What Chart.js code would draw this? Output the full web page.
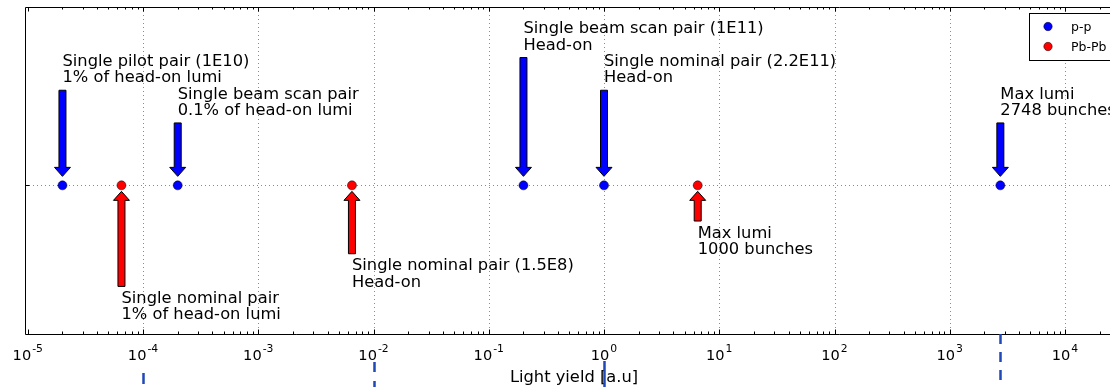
<!DOCTYPE html>
<html>
<head>
<meta charset="utf-8">
<script src="https://cdn.jsdelivr.net/npm/chart.js@4.4.0/dist/chart.umd.min.js"></script>
<style>
  html, body { margin: 0; padding: 0; background: #fff; }
  #wrap { width: 1110px; height: 387px; }
</style>
</head>
<body>
<div id="wrap"><canvas id="c"></canvas></div>
<script>
// p-p: light yield of each scenario, and where its arrow starts (y, data units)
const ppYield = [2e-5, 2e-4, 0.2, 1, 2748];
const ppArrowFrom = [0.64, 0.42, 0.86, 0.64, 0.42];
const ppLabels = [
  ["Single pilot pair (1E10)", "1% of head-on lumi"],
  ["Single beam scan pair", "0.1% of head-on lumi"],
  ["Single beam scan pair (1E11)", "Head-on"],
  ["Single nominal pair (2.2E11)", "Head-on"],
  ["Max lumi", "2748 bunches"],
];

// Pb-Pb
const pbYield = [6.5e-5, 6.5e-3, 6.5];
const pbArrowFrom = [-0.68, -0.46, -0.24];
const pbLabels = [
  ["Single nominal pair", "1% of head-on lumi"],
  ["Single nominal pair (1.5E8)", "Head-on"],
  ["Max lumi", "1000 bunches"],
];

// decade tick exponents, and the dashed markers under the axis
const decades = [-5, -4, -3, -2, -1, 0, 1, 2, 3, 4];
const markerLines = [1e-4, 1e-2, 1, 2748];

const xMin = Math.pow(10, -5.024), xMax = Math.pow(10, 4.347);
const yMin = -1, yMax = 1.2;

const FONT = '"DejaVu Sans", sans-serif';

function drawArrow(ctx, x, yTail, yTip, color) {
  const dir = Math.sign(yTip - yTail);
  const shaft = 3.5, head = 8, headLen = 9;
  const yb = yTip - dir * headLen;
  ctx.beginPath();
  ctx.moveTo(x - shaft, yTail);
  ctx.lineTo(x - shaft, yb);
  ctx.lineTo(x - head, yb);
  ctx.lineTo(x, yTip);
  ctx.lineTo(x + head, yb);
  ctx.lineTo(x + shaft, yb);
  ctx.lineTo(x + shaft, yTail);
  ctx.closePath();
  ctx.fillStyle = color;
  ctx.fill();
  ctx.strokeStyle = '#000';
  ctx.lineWidth = 1;
  ctx.stroke();
}

const decor = {
  id: 'decor',
  beforeDatasetsDraw(chart) {
    const { ctx, chartArea: a, scales: { x, y } } = chart;
    ctx.save();
    ctx.strokeStyle = '#8c8c8c';
    ctx.lineWidth = 1;
    ctx.setLineDash([1, 3]);
    decades.forEach(e => {
      const px = Math.round(x.getPixelForValue(Math.pow(10, e))) + 0.5;
      if (px <= a.left + 4) return;
      ctx.beginPath();
      ctx.moveTo(px, a.top);
      ctx.lineTo(px, a.bottom);
      ctx.stroke();
    });
    const py = Math.round(y.getPixelForValue(0)) + 0.5;
    ctx.beginPath();
    ctx.moveTo(a.left, py);
    ctx.lineTo(chart.width, py);
    ctx.stroke();
    ctx.restore();
  },
  afterDraw(chart) {
    const { ctx, chartArea: a, scales: { x, y } } = chart;
    const W = chart.width;
    ctx.save();

    // axes frame
    ctx.strokeStyle = '#000';
    ctx.lineWidth = 1;
    ctx.beginPath();
    ctx.moveTo(W + 5, a.top + 0.5);
    ctx.lineTo(a.left + 0.5, a.top + 0.5);
    ctx.lineTo(a.left + 0.5, a.bottom + 0.5);
    ctx.lineTo(W + 5, a.bottom + 0.5);
    ctx.stroke();

    // tick marks (inward) on bottom and top
    decades.forEach(e => {
      for (let m = 1; m <= 9; m++) {
        const v = m * Math.pow(10, e);
        if (v < xMin) continue;
        const px = Math.round(x.getPixelForValue(v)) + 0.5;
        if (px > W) continue;
        const len = m === 1 ? 4.5 : 2.5;
        ctx.beginPath();
        ctx.moveTo(px, a.bottom);
        ctx.lineTo(px, a.bottom - len);
        ctx.moveTo(px, a.top);
        ctx.lineTo(px, a.top + len);
        ctx.stroke();
      }
    });
    const py0 = Math.round(y.getPixelForValue(0)) + 0.5;
    ctx.beginPath();
    ctx.moveTo(a.left, py0);
    ctx.lineTo(a.left + 4.5, py0);
    ctx.stroke();

    // tick labels 10^n
    ctx.fillStyle = '#000';
    ctx.textBaseline = 'alphabetic';
    decades.forEach(e => {
      const px = x.getPixelForValue(Math.pow(10, e));
      ctx.font = '14.6px ' + FONT;
      const base = '10', sup = String(e);
      const wb = ctx.measureText(base).width;
      ctx.font = '10.8px ' + FONT;
      const ws = ctx.measureText(sup).width;
      const left = px - (wb + ws + 1) / 2;
      ctx.font = '14.6px ' + FONT;
      ctx.textAlign = 'left';
      ctx.fillText(base, left, a.bottom + 26);
      ctx.font = '10.8px ' + FONT;
      ctx.fillText(sup, left + wb + 1, a.bottom + 17.5);
    });

    // axis title
    ctx.font = '16.3px ' + FONT;
    ctx.textAlign = 'center';
    ctx.fillText('Light yield [a.u]', 574, a.bottom + 48);

    // dashed markers below the axis
    const dashStyles = [
      { from: 39, dash: [11, 40] },
      { from: 28, dash: [10, 9] },
      { from: 27, dash: [] },
      { from: 0, dash: [10, 8] },
    ];
    ctx.strokeStyle = '#1f48b8';
    ctx.lineWidth = 2.5;
    markerLines.forEach((v, i) => {
      const px = Math.round(x.getPixelForValue(v)) + 0.5;
      ctx.setLineDash(dashStyles[i].dash);
      ctx.beginPath();
      ctx.moveTo(px, a.bottom + dashStyles[i].from);
      ctx.lineTo(px, chart.height + 2);
      ctx.stroke();
    });
    ctx.setLineDash([]);

    // arrows and annotation text
    ctx.font = '16.3px ' + FONT;
    ctx.textAlign = 'left';
    ctx.fillStyle = '#000';
    ppYield.forEach((v, i) => {
      const px = x.getPixelForValue(v);
      const tail = y.getPixelForValue(ppArrowFrom[i]);
      drawArrow(ctx, px, tail, y.getPixelForValue(0) - 9, '#0000ff');
      const lines = ppLabels[i];
      ctx.fillStyle = '#000';
      lines.forEach((t, k) => {
        ctx.fillText(t, px, tail - 8 - (lines.length - 1 - k) * 16.4);
      });
    });
    pbYield.forEach((v, i) => {
      const px = x.getPixelForValue(v);
      const tail = y.getPixelForValue(pbArrowFrom[i]);
      drawArrow(ctx, px, tail, y.getPixelForValue(0) + 6, '#ff0000');
      ctx.fillStyle = '#000';
      pbLabels[i].forEach((t, k) => {
        ctx.fillText(t, px, tail + 16.5 + k * 16.5);
      });
    });

    // legend (runs off the right edge, like the original)
    ctx.fillStyle = '#fff';
    ctx.strokeStyle = '#000';
    ctx.lineWidth = 1;
    ctx.fillRect(1029.5, 13.5, 100, 47);
    ctx.strokeRect(1029.5, 13.5, 100, 47);
    const items = [['p-p', '#0000ff'], ['Pb-Pb', '#ff0000']];
    items.forEach(([label, col], k) => {
      const ly = 26.5 + k * 20;
      ctx.beginPath();
      ctx.arc(1048, ly, 4.2, 0, Math.PI * 2);
      ctx.fillStyle = col;
      ctx.fill();
      ctx.lineWidth = 0.5;
      ctx.stroke();
      ctx.fillStyle = '#000';
      ctx.font = '12.5px ' + FONT;
      ctx.textBaseline = 'middle';
      ctx.fillText(label, 1071, ly + 1);
    });
    ctx.restore();
  }
};

new Chart(document.getElementById('c'), {
  type: 'scatter',
  data: {
    datasets: [
      {
        label: 'p-p',
        data: ppYield.map(v => ({ x: v, y: 0 })),
        backgroundColor: '#0000ff',
        borderColor: '#000',
        borderWidth: 0.5,
        pointRadius: 4.5,
      },
      {
        label: 'Pb-Pb',
        data: pbYield.map(v => ({ x: v, y: 0 })),
        backgroundColor: '#ff0000',
        borderColor: '#000',
        borderWidth: 0.5,
        pointRadius: 4.5,
      },
    ],
  },
  options: {
    responsive: true,
    maintainAspectRatio: false,
    animation: false,
    layout: { padding: { top: 7, left: 0, right: 0, bottom: 0 } },
    plugins: { legend: { display: false }, tooltip: { enabled: false } },
    scales: {
      x: {
        type: 'logarithmic',
        min: xMin,
        max: xMax,
        ticks: { display: false },
        grid: { display: false },
        border: { display: false },
        afterFit: (s) => { s.height = 53; },
      },
      y: {
        min: yMin,
        max: yMax,
        ticks: { display: false },
        grid: { display: false },
        border: { display: false },
        afterFit: (s) => { s.width = 25; },
      },
    },
  },
  plugins: [decor],
});
</script>
</body>
</html>
